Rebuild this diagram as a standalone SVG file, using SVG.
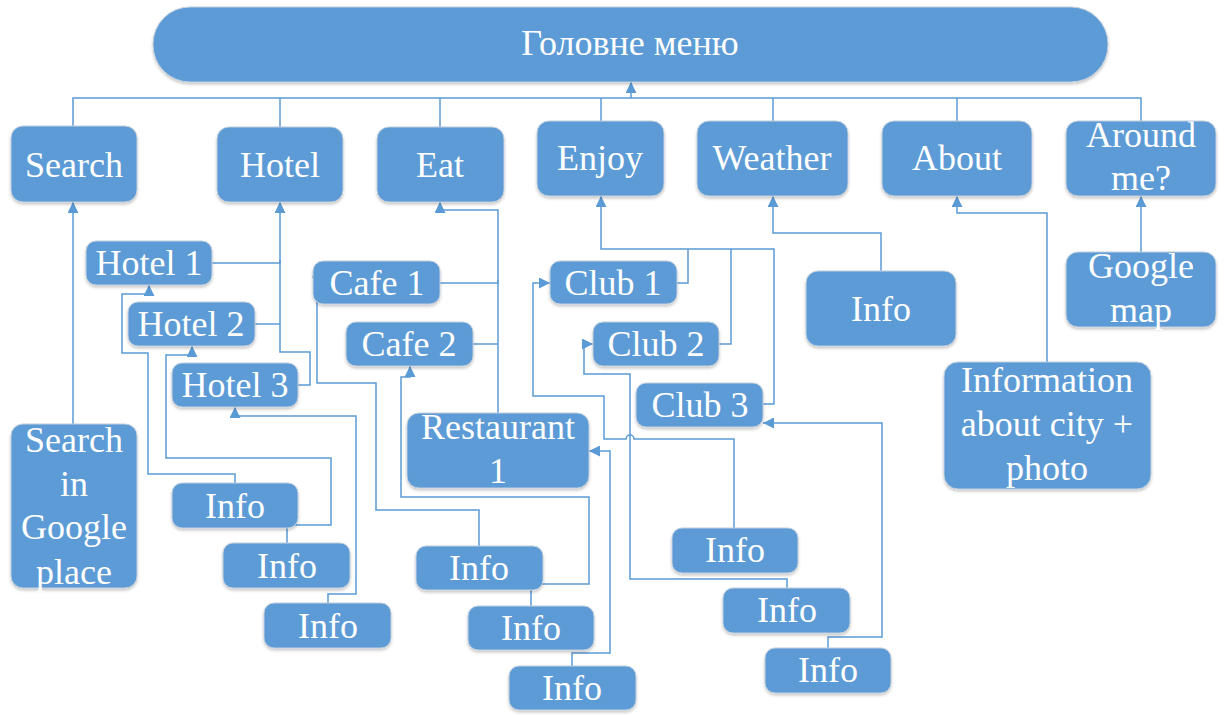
<svg xmlns="http://www.w3.org/2000/svg" width="1228" height="715" viewBox="0 0 1228 715">
<defs>
<style>
.n rect{fill:#5B9BD5;stroke:#C3CFDC;stroke-width:1;filter:url(#sh)}
.n text{font-family:"Liberation Serif","Times New Roman",serif;font-size:36px;fill:#FFFFFF;text-anchor:middle}
#connectors path{fill:none;stroke:#5B9BD5;stroke-width:1.5}
</style>
<filter id="sh" x="-10%" y="-10%" width="120%" height="130%">
<feDropShadow dx="0" dy="2" stdDeviation="1.5" flood-color="#000" flood-opacity="0.22"/>
</filter>
<marker id="ah" viewBox="0 0 10 10" refX="10" refY="5" markerWidth="11" markerHeight="11" orient="auto" markerUnits="userSpaceOnUse">
<path d="M0,0 L10,5 L0,10 z" fill="#5B9BD5"/>
</marker>
</defs>
<rect width="1228" height="715" fill="#FFFFFF"/>
<g id="connectors">
<path d="M73,126 V98 H1141 V121"/>
<path d="M280,127 V98"/>
<path d="M440,127 V98"/>
<path d="M601,121 V98"/>
<path d="M773,121 V98"/>
<path d="M957,121 V98"/>
<path d="M631,98 V82" marker-end="url(#ah)"/>
<path d="M73,424 V202" marker-end="url(#ah)"/>
<path d="M212,263 H280 V202" marker-end="url(#ah)"/>
<path d="M255,324 H280"/>
<path d="M298,385 H310 V352 H280 V260"/>
<path d="M440,283 H498 V210 H440 V202" marker-end="url(#ah)"/>
<path d="M473,344 H498"/>
<path d="M498,413 V280"/>
<path d="M677,283 H688 V249"/>
<path d="M719,344 H731 V249"/>
<path d="M763,404 H774 V249 H601 V196" marker-end="url(#ah)"/>
<path d="M881,271 V233 H773 V196" marker-end="url(#ah)"/>
<path d="M1047,362 V213 H957 V196" marker-end="url(#ah)"/>
<path d="M1141,252 V196" marker-end="url(#ah)"/>
<path d="M235,483 V474 H148 V353 H122 V294 H149 V285" marker-end="url(#ah)"/>
<path d="M287,543 V525 H331 V458 H166 V355 H192 V346" marker-end="url(#ah)"/>
<path d="M328,603 V594 H356 V416 H235 V407" marker-end="url(#ah)"/>
<path d="M479,546 V510 H376 V383 H317 V267" marker-end="url(#ah)"/>
<path d="M531,606 V584 H589 V497 H401 V377 H410 V366" marker-end="url(#ah)"/>
<path d="M572,666 V653 H610 V451 H589" marker-end="url(#ah)"/>
<path d="M734,528 V439 H634 A4,4 0 0 0 626,439 H604 V396 H533 V283 H550" marker-end="url(#ah)"/>
<path d="M787,588 V579 H630 V374 H584 V344 H593" marker-end="url(#ah)"/>
<path d="M828,648 V637 H882 V423 H763" marker-end="url(#ah)"/>
</g>
<g id="root" class="n"><rect x="153" y="7" width="955" height="75" rx="37"/><text x="630" y="55">Головне меню</text></g>
<g id="search" class="n"><rect x="11" y="126" width="126" height="76" rx="12"/><text x="74" y="177">Search</text></g>
<g id="hotel" class="n"><rect x="217" y="127" width="126" height="75" rx="12"/><text x="280" y="177">Hotel</text></g>
<g id="eat" class="n"><rect x="377" y="127" width="127" height="75" rx="12"/><text x="440" y="177">Eat</text></g>
<g id="enjoy" class="n"><rect x="537" y="121" width="127" height="75" rx="12"/><text x="600" y="170">Enjoy</text></g>
<g id="weather" class="n"><rect x="697" y="121" width="151" height="75" rx="12"/><text x="772" y="170">Weather</text></g>
<g id="about" class="n"><rect x="882" y="121" width="150" height="75" rx="12"/><text x="957" y="170">About</text></g>
<g id="around" class="n"><rect x="1066" y="121" width="150" height="75" rx="12"/><text x="1141" y="147">Around</text><text x="1141" y="190">me?</text></g>
<g id="search-google" class="n"><rect x="11" y="424" width="126" height="164" rx="12"/><text x="74" y="452">Search</text><text x="74" y="496">in</text><text x="74" y="539">Google</text><text x="74" y="584">place</text></g>
<g id="hotel1" class="n"><rect x="86" y="241" width="126" height="44" rx="10"/><text x="149" y="275">Hotel 1</text></g>
<g id="hotel2" class="n"><rect x="128" y="302" width="127" height="44" rx="10"/><text x="191" y="336">Hotel 2</text></g>
<g id="hotel3" class="n"><rect x="172" y="363" width="126" height="44" rx="10"/><text x="235" y="397">Hotel 3</text></g>
<g id="cafe1" class="n"><rect x="313" y="261" width="127" height="43" rx="10"/><text x="377" y="295">Cafe 1</text></g>
<g id="cafe2" class="n"><rect x="346" y="322" width="127" height="44" rx="10"/><text x="409" y="356">Cafe 2</text></g>
<g id="restaurant1" class="n"><rect x="407" y="413" width="182" height="75" rx="12"/><text x="498" y="439">Restaurant</text><text x="498" y="483">1</text></g>
<g id="club1" class="n"><rect x="550" y="261" width="127" height="43" rx="10"/><text x="613" y="295">Club 1</text></g>
<g id="club2" class="n"><rect x="593" y="322" width="126" height="44" rx="10"/><text x="656" y="356">Club 2</text></g>
<g id="club3" class="n"><rect x="636" y="383" width="127" height="44" rx="10"/><text x="700" y="417">Club 3</text></g>
<g id="weather-info" class="n"><rect x="806" y="271" width="150" height="75" rx="12"/><text x="881" y="321">Info</text></g>
<g id="about-info" class="n"><rect x="944" y="362" width="207" height="127" rx="14"/><text x="1047" y="392">Information</text><text x="1047" y="436">about city +</text><text x="1047" y="480">photo</text></g>
<g id="google-map" class="n"><rect x="1066" y="252" width="150" height="75" rx="12"/><text x="1141" y="278">Google</text><text x="1141" y="322">map</text></g>
<g id="info-h1" class="n"><rect x="172" y="483" width="126" height="45" rx="10"/><text x="235" y="518">Info</text></g>
<g id="info-h2" class="n"><rect x="223" y="543" width="127" height="45" rx="10"/><text x="287" y="578">Info</text></g>
<g id="info-h3" class="n"><rect x="264" y="603" width="127" height="45" rx="10"/><text x="328" y="638">Info</text></g>
<g id="info-e1" class="n"><rect x="416" y="546" width="127" height="44" rx="10"/><text x="479" y="580">Info</text></g>
<g id="info-e2" class="n"><rect x="468" y="606" width="126" height="44" rx="10"/><text x="531" y="640">Info</text></g>
<g id="info-e3" class="n"><rect x="509" y="666" width="127" height="44" rx="10"/><text x="572" y="700">Info</text></g>
<g id="info-c1" class="n"><rect x="672" y="528" width="126" height="45" rx="10"/><text x="735" y="562">Info</text></g>
<g id="info-c2" class="n"><rect x="723" y="588" width="127" height="45" rx="10"/><text x="787" y="622">Info</text></g>
<g id="info-c3" class="n"><rect x="765" y="648" width="126" height="45" rx="10"/><text x="828" y="682">Info</text></g>
</svg>
